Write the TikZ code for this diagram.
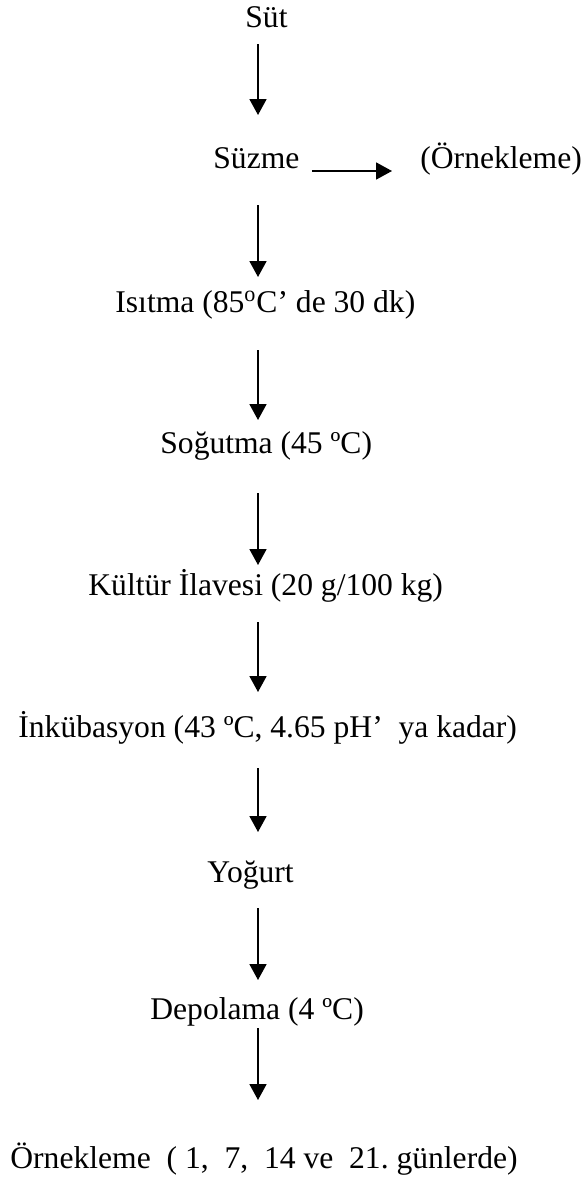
\documentclass[tikz,border=0pt]{standalone}
\usepackage{fontspec}
\setmainfont{Liberation Serif}
\usetikzlibrary{arrows.meta}
\frenchspacing

\tikzstyle{step-text}=[inner sep=0pt, anchor=base west, font=\fontsize{15.8}{19}\selectfont]
\tikzstyle{flow}=[line width=0.9pt, -{Triangle[length=8pt, width=8.5pt]}]

\begin{document}
\begin{tikzpicture}[x=0.5pt, y=-0.5pt]
\useasboundingbox (0,0) rectangle (586,1178);

% process steps, one under the other
\node[step-text] (sut)     at (245,27)   {Süt};
\node[step-text] (suzme)   at (213,168)  {Süzme};
\node[step-text] (ornek)   at (420,168)  {(Örnekleme)};
\node[step-text] (isitma)  at (115,312)  {Isıtma (85\textsuperscript{o}C’ de 30 dk)};
\node[step-text] (sogutma) at (160,453)  {Soğutma (45 ºC)};
\node[step-text] (kultur)  at (88,595)   {Kültür İlavesi (20 g/100 kg)};
\node[step-text] (inkub)   at (18,737)   {İnkübasyon (43 ºC, 4.65 pH’\ \ ya kadar)};
\node[step-text] (yogurt)  at (207,882)  {Yoğurt};
\node[step-text] (depo)    at (150,1019) {Depolama (4 ºC)};
\node[step-text] (gunler)  at (10,1168)  {Örnekleme\ \ ( 1,\ \ 7,\ \ 14 ve\ \ 21. günlerde)};

% all the down arrows sit on one vertical line
\coordinate (spine) at (258,0);

\draw[flow, shorten <=8.5pt,  shorten >=26.5pt] (sut.base -| spine)     -- (suzme.base -| spine);
\draw[flow, shorten <=18.5pt, shorten >=17.5pt] (suzme.base -| spine)   -- (isitma.base -| spine);
\draw[flow, shorten <=19pt,   shorten >=16.5pt] (isitma.base -| spine)  -- (sogutma.base -| spine);
\draw[flow, shorten <=20pt,   shorten >=15pt]   (sogutma.base -| spine) -- (kultur.base -| spine);
\draw[flow, shorten <=13.5pt, shorten >=22.5pt] (kultur.base -| spine)  -- (inkub.base -| spine);
\draw[flow, shorten <=15.5pt, shorten >=25pt]   (inkub.base -| spine)   -- (yogurt.base -| spine);
\draw[flow, shorten <=13pt,   shorten >=19.5pt] (yogurt.base -| spine)  -- (depo.base -| spine);
\draw[flow, shorten <=4.5pt,  shorten >=34pt]   (depo.base -| spine)    -- (gunler.base -| spine);

% side branch to the sampling step
\draw[flow, shorten <=6pt, shorten >=14pt] ([yshift=-1.5pt]suzme.base east) -- ([yshift=-1.5pt]ornek.base west);

\end{tikzpicture}
\end{document}
